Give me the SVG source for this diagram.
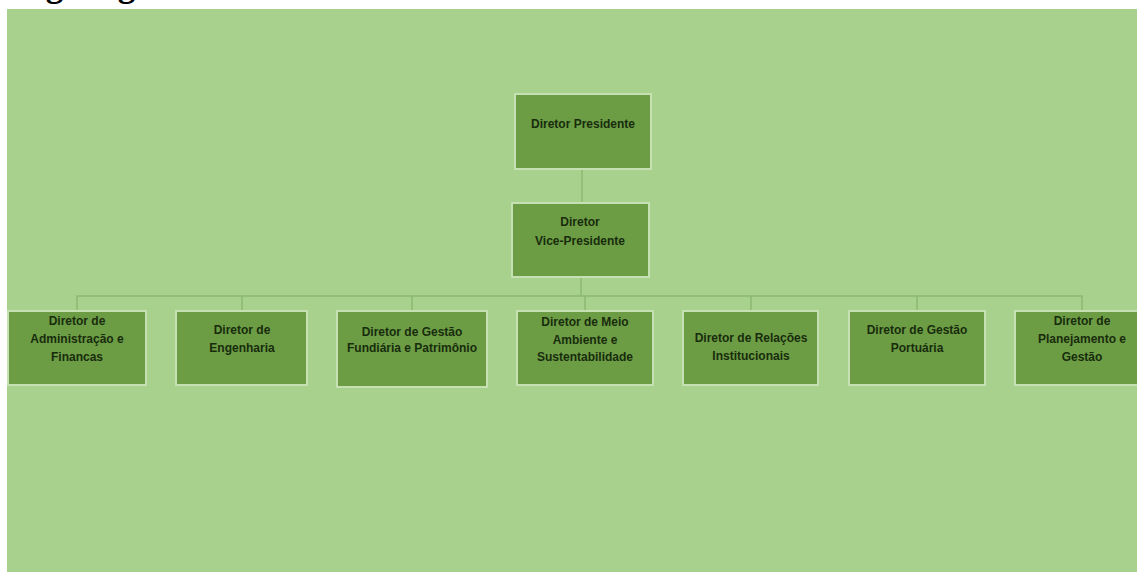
<svg xmlns="http://www.w3.org/2000/svg" width="1137" height="572" viewBox="0 0 1137 572">
<style>
.bg{fill:#a9d18e}
.box{fill:#6c9d45;stroke:#c5e0b3;stroke-width:2}
.t{font-family:"Liberation Sans",Arial,sans-serif;font-weight:bold;font-size:12px;fill:#182c0c;text-anchor:middle}
.c{stroke:#8cb872;stroke-width:1.5;fill:none}
.h{font-family:"Liberation Serif","Times New Roman",serif;font-weight:bold;font-size:35px;fill:#000}
</style>
<rect width="1137" height="572" fill="#fff"/>
<text class="h" x="3" y="-4">Organograma</text>
<rect class="bg" x="7" y="9" width="1130" height="563"/>
<g id="connectors">
<path class="c" d="M582 169V203"/>
<path class="c" d="M581 277V296"/>
<path class="c" d="M77 311V296H1082V311"/>
<path class="c" d="M242 296V311M412 296V311M585 296V311M751 296V311M917 296V311"/>
</g>
<g id="n-presidente">
<rect class="box" x="515" y="94" width="136" height="75"/>
<text class="t" x="583" y="128">Diretor Presidente</text>
</g>
<g id="n-vice">
<rect class="box" x="512" y="203" width="137" height="74"/>
<text class="t" x="580" y="226">Diretor</text>
<text class="t" x="580" y="245">Vice-Presidente</text>
</g>
<g id="n-adm">
<rect class="box" x="8" y="311" width="138" height="74"/>
<text class="t" x="77" y="325">Diretor de</text>
<text class="t" x="77" y="343">Administração e</text>
<text class="t" x="77" y="361">Financas</text>
</g>
<g id="n-eng">
<rect class="box" x="176" y="311" width="131" height="74"/>
<text class="t" x="242" y="334">Diretor de</text>
<text class="t" x="242" y="352">Engenharia</text>
</g>
<g id="n-fund">
<rect class="box" x="337" y="311" width="150" height="76"/>
<text class="t" x="412" y="336">Diretor de Gestão</text>
<text class="t" x="412" y="352">Fundiária e Patrimônio</text>
</g>
<g id="n-meio">
<rect class="box" x="517" y="311" width="136" height="74"/>
<text class="t" x="585" y="326">Diretor de Meio</text>
<text class="t" x="585" y="344">Ambiente e</text>
<text class="t" x="585" y="361">Sustentabilidade</text>
</g>
<g id="n-rel">
<rect class="box" x="683" y="311" width="135" height="74"/>
<text class="t" x="751" y="342">Diretor de Relações</text>
<text class="t" x="751" y="360">Institucionais</text>
</g>
<g id="n-port">
<rect class="box" x="849" y="311" width="136" height="74"/>
<text class="t" x="917" y="334">Diretor de Gestão</text>
<text class="t" x="917" y="352">Portuária</text>
</g>
<g id="n-plan">
<rect class="box" x="1015" y="311" width="136" height="74"/>
<text class="t" x="1082" y="325">Diretor de</text>
<text class="t" x="1082" y="343">Planejamento e</text>
<text class="t" x="1082" y="361">Gestão</text>
</g>
</svg>
